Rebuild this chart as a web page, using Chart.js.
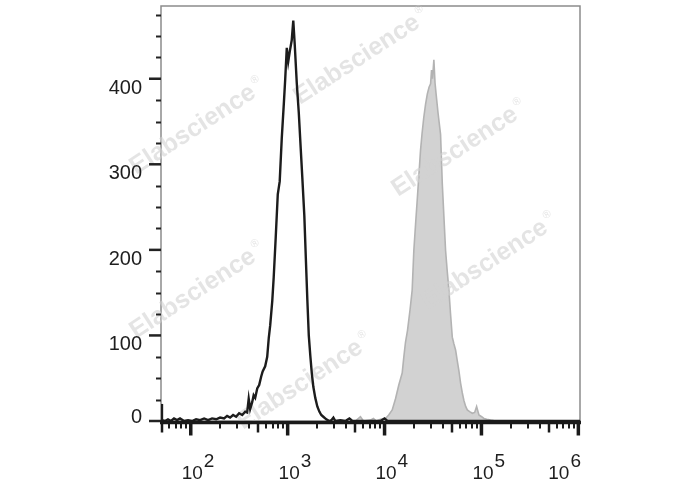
<!DOCTYPE html>
<html>
<head>
<meta charset="utf-8">
<script src="https://cdn.jsdelivr.net/npm/chart.js@4"></script>
<style>
    body { margin: 0; background: #ffffff; }
    #wrap { width: 688px; height: 490px; }
</style>
</head>
<body>
<div id="wrap"><canvas id="histChart" width="688" height="490"></canvas></div>
<script>
// Histogram data, x given in decades (log10 of intensity), y in counts
const blackDecades = [1.693, 1.703, 1.734, 1.765, 1.796, 1.827, 1.858, 1.889, 1.931, 1.972,
    2.013, 2.055, 2.096, 2.138, 2.179, 2.220, 2.262, 2.303, 2.344, 2.375,
    2.406, 2.437, 2.468, 2.499, 2.531, 2.562, 2.582, 2.598, 2.613, 2.634,
    2.649, 2.665, 2.686, 2.706, 2.727, 2.742, 2.768, 2.789, 2.805, 2.820,
    2.841, 2.856, 2.877, 2.898, 2.918, 2.939, 2.960, 2.975, 2.991, 3.006,
    3.022, 3.042, 3.058, 3.073, 3.094, 3.115, 3.135, 3.151, 3.172, 3.187,
    3.203, 3.218, 3.234, 3.249, 3.265, 3.285, 3.306, 3.327, 3.347, 3.368,
    3.399, 3.430, 3.451, 3.472, 3.492, 3.544, 3.596, 3.637, 3.668, 3.751,
    3.958, 3.999, 4.030, 4.371, 5.199, 6.017];
const blackCounts = [20, 1, 0, 2, 0, 3, 1, 3, 0, 1,
    0, 2, 1, 3, 1, 3, 2, 4, 3, 6,
    4, 7, 5, 9, 7, 11, 10, 26, 14, 22,
    30, 27, 38, 42, 52, 58, 64, 75, 97, 112,
    140, 168, 215, 265, 280, 330, 370, 400, 436, 420,
    432, 445, 468, 440, 395, 360, 318, 285, 240, 192,
    142, 100, 76, 56, 40, 27, 17, 11, 7, 5,
    2, 0, 1, 4, 0, 1, 0, 3, 0, 0,
    0, 3, 0, 0, 0, 0];

const grayDecades = [1.693, 3.699, 3.751, 3.782, 3.854, 3.885, 3.916, 3.958, 4.009, 4.043,
    4.079, 4.113, 4.147, 4.182, 4.199, 4.216, 4.237, 4.263, 4.285, 4.302,
    4.320, 4.337, 4.356, 4.371, 4.387, 4.405, 4.423, 4.441, 4.459, 4.475,
    4.485, 4.495, 4.509, 4.521, 4.532, 4.552, 4.578, 4.596, 4.612, 4.630,
    4.647, 4.664, 4.681, 4.699, 4.716, 4.733, 4.751, 4.767, 4.785, 4.802,
    4.819, 4.837, 4.854, 4.878, 4.906, 4.930, 4.950, 4.974, 5.002, 5.026,
    5.054, 5.095, 5.147, 6.017];
const grayCounts = [0, 0, 5, 0, 1, 3, 0, 2, 3, 7,
    13, 26, 42, 56, 75, 92, 106, 130, 153, 199,
    230, 258, 290, 316, 336, 355, 370, 382, 390, 394,
    410, 400, 422, 395, 382, 360, 335, 277, 240, 199,
    175, 153, 125, 98, 90, 83, 70, 59, 44, 33,
    24, 17, 13, 11, 9, 10, 17, 7, 5, 3,
    2, 1, 0, 0];

const xMajorTicks = [100, 1000, 10000, 100000, 1000000];
const xTickExponents = ['2', '3', '4', '5', '6'];
const yMajorTicks = [0, 100, 200, 300, 400];
const yTickLabels = ['0', '100', '200', '300', '400'];
const watermarkText = 'Elabscience';

function toPoints(decades, counts) {
    return decades.map((d, i) => ({ x: Math.pow(10, d), y: counts[i] }));
}

// minor ticks: every integer multiple inside each decade
const xMinorTicks = [];
for (let p = 1; p <= 5; p++) {
    for (let m = 2; m <= 9; m++) {
        const v = m * Math.pow(10, p);
        if (v >= 49.3) xMinorTicks.push(v);
    }
}
const yMinorTicks = [];
for (let v = 25; v <= 475; v += 25) {
    if (v % 100 !== 0) yMinorTicks.push(v);
}

// Watermarks drawn right after the gray histogram, under the black line
const watermarkPlugin = {
    id: 'watermarks',
    afterDatasetDraw(chart, args) {
        if (args.index !== 1) return;
        const ctx = chart.ctx;
        const spots = [[300, 105], [136, 175], [398, 197], [136, 339], [428, 310], [243, 430]];
        ctx.save();
        ctx.fillStyle = 'rgba(210, 210, 210, 0.6)';
        spots.forEach(s => {
            ctx.save();
            ctx.translate(s[0], s[1]);
            ctx.rotate(-33 * Math.PI / 180);
            ctx.font = 'bold 25px "Liberation Sans", Arial, sans-serif';
            ctx.fillText(watermarkText, 0, 0);
            const w = ctx.measureText(watermarkText).width;
            ctx.font = '11px "Liberation Sans", Arial, sans-serif';
            ctx.fillText('\u00AE', w + 3, -12);
            ctx.restore();
        });
        ctx.restore();
    }
};

// Frame, ticks and labels drawn by hand through the chart scales
const axesPlugin = {
    id: 'flowAxes',
    beforeDatasetsDraw(chart) {
        const ctx = chart.ctx;
        const a = chart.chartArea;
        ctx.save();
        ctx.strokeStyle = '#8c8c8c';
        ctx.lineWidth = 1.5;
        ctx.beginPath();
        ctx.moveTo(a.left, a.bottom);
        ctx.lineTo(a.left, a.top);
        ctx.lineTo(a.right, a.top);
        ctx.lineTo(a.right, a.bottom);
        ctx.stroke();
        ctx.restore();
    },
    afterDatasetsDraw(chart) {
        const ctx = chart.ctx;
        const a = chart.chartArea;
        const xs = chart.scales.x;
        const ys = chart.scales.y;
        const axisY = a.bottom + 1.5;
        ctx.save();

        // y ticks
        ctx.strokeStyle = '#222222';
        yMinorTicks.forEach(v => {
            const y = Math.round(ys.getPixelForValue(v)) + 0.5;
            ctx.lineWidth = 2;
            ctx.beginPath();
            ctx.moveTo(a.left - 5, y);
            ctx.lineTo(a.left, y);
            ctx.stroke();
        });
        yMajorTicks.forEach(v => {
            const y = ys.getPixelForValue(v);
            ctx.lineWidth = 2.5;
            ctx.beginPath();
            ctx.moveTo(a.left - 12, y);
            ctx.lineTo(a.left, y);
            ctx.stroke();
        });

        // x axis line
        ctx.strokeStyle = '#1a1a1a';
        ctx.lineWidth = 3.5;
        ctx.beginPath();
        ctx.moveTo(a.left - 1, axisY);
        ctx.lineTo(a.right + 1, axisY);
        ctx.stroke();

        // x minor ticks, the 5x ones a bit longer
        xMinorTicks.forEach(v => {
            const x = Math.round(xs.getPixelForValue(v));
            const five = String(v)[0] === '5';
            ctx.lineWidth = five ? 2.5 : 2;
            ctx.beginPath();
            ctx.moveTo(x, axisY);
            ctx.lineTo(x, axisY + (five ? 10 : 6));
            ctx.stroke();
        });
        xMajorTicks.forEach(v => {
            const x = Math.min(xs.getPixelForValue(v), a.right - 1.5);
            ctx.lineWidth = 3.5;
            ctx.beginPath();
            ctx.moveTo(x, axisY);
            ctx.lineTo(x, axisY + 13);
            ctx.stroke();
        });

        // labels
        ctx.fillStyle = '#1e1e1e';
        ctx.font = '20px "Liberation Sans", Arial, sans-serif';
        ctx.textAlign = 'right';
        ctx.textBaseline = 'alphabetic';
        yMajorTicks.forEach((v, i) => {
            const y = ys.getPixelForValue(v);
            const off = v === 0 ? 2 : 15;
            ctx.fillText(yTickLabels[i], a.left - 19, y + off);
        });

        ctx.textAlign = 'left';
        ctx.font = '19px "Liberation Sans", Arial, sans-serif';
        xMajorTicks.forEach((v, i) => {
            const x = xs.getPixelForValue(v);
            const wBase = ctx.measureText('10').width;
            const wExp = ctx.measureText(xTickExponents[i]).width;
            let left = x + 1.5 - wBase / 2;
            if (left + wBase + 1 + wExp > a.right + 1) left = a.right + 1 - wBase - 1 - wExp;
            ctx.fillText('10', left, 479);
            ctx.fillText(xTickExponents[i], left + wBase + 1, 467);
        });
        ctx.restore();
    }
};

const ctx = document.getElementById('histChart').getContext('2d');
const histChart = new Chart(ctx, {
    type: 'line',
    data: {
        datasets: [{
            label: 'stained',
            data: toPoints(blackDecades, blackCounts),
            borderColor: '#1c1c1c',
            borderWidth: 2.4,
            fill: false,
            pointRadius: 0,
            tension: 0,
            order: 0
        }, {
            label: 'control',
            data: toPoints(grayDecades, grayCounts),
            borderColor: '#b3b3b3',
            backgroundColor: '#d2d2d2',
            borderWidth: 1.6,
            fill: 'origin',
            pointRadius: 0,
            tension: 0,
            order: 1
        }]
    },
    options: {
        responsive: false,
        animation: false,
        devicePixelRatio: 1,
        layout: {
            padding: { left: 161, right: 108, top: 6, bottom: 69 }
        },
        plugins: {
            legend: { display: false },
            tooltip: { enabled: false }
        },
        scales: {
            x: {
                type: 'logarithmic',
                min: 49.3,
                max: 1040000,
                display: false
            },
            y: {
                type: 'linear',
                min: 0,
                max: 485,
                display: false
            }
        }
    },
    plugins: [watermarkPlugin, axesPlugin]
});
</script>
</body>
</html>
